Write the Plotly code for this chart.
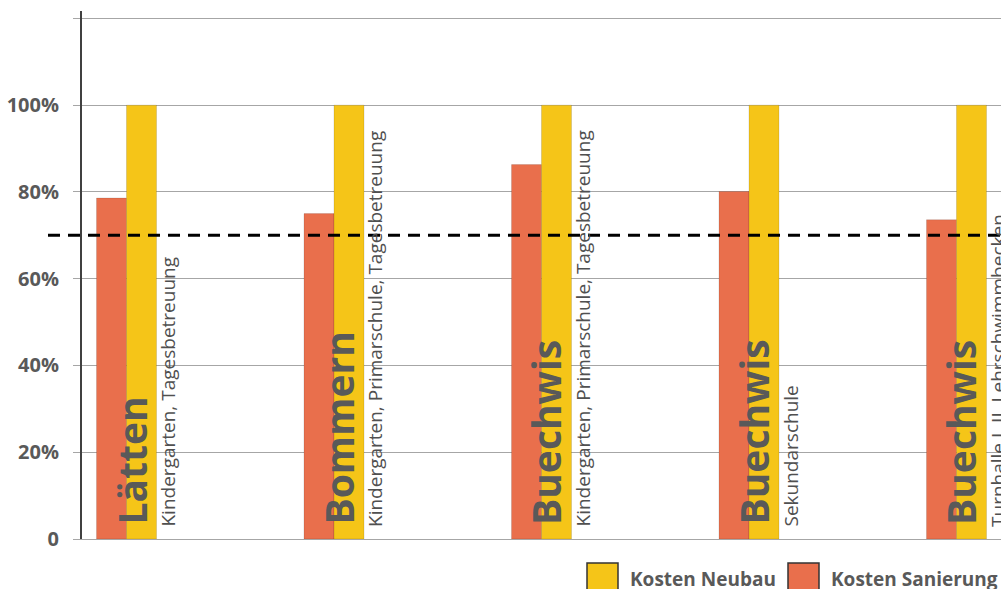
import plotly.graph_objects as go

locations = ["Lätten", "Bommern", "Buechwis", "Buechwis", "Buechwis"]
uses = ["Kindergarten, Tagesbetreuung",
        "Kindergarten, Primarschule, Tagesbetreuung",
        "Kindergarten, Primarschule, Tagesbetreuung",
        "Sekundarschule",
        "Turnhalle I, II, Lehrschwimmbecken"]
kosten_sanierung = [78.6, 75.0, 86.3, 80.1, 73.6]
kosten_neubau = [100, 100, 100, 100, 100]
threshold = 70
tick_vals = [0, 20, 40, 60, 80, 100, 120]
tick_text = ["0", "20%", "40%", "60%", "80%", "100%", ""]
legend_names = ["Kosten Neubau", "Kosten Sanierung"]

ORANGE = "#E96F4C"
YELLOW = "#F5C518"
GRAY_TXT = "#595959"
FONT = "Open Sans"

x = list(range(len(locations)))
bw = 0.1445

fig = go.Figure()
fig.add_trace(go.Bar(x=x, y=kosten_sanierung, width=bw, offset=-bw,
                     marker=dict(color=ORANGE, line=dict(color="rgba(0,0,0,0.12)", width=1)),
                     name=legend_names[1], showlegend=False))
fig.add_trace(go.Bar(x=x, y=kosten_neubau, width=bw, offset=0,
                     marker=dict(color=YELLOW, line=dict(color="rgba(0,0,0,0.12)", width=1)),
                     name=legend_names[0], showlegend=False))

# threshold dashed line
fig.add_shape(type="line", xref="paper", yref="y", x0=-0.037, x1=1, y0=threshold, y1=threshold,
              line=dict(color="black", width=3, dash="12px,8px"), layer="above")

for i, (loc, use) in enumerate(zip(locations, uses)):
    fig.add_annotation(x=i, y=0, text=loc, textangle=-90, showarrow=False,
                       xanchor="center", yanchor="bottom", xshift=4, yshift=12,
                       font=dict(family=FONT, size=39, color=GRAY_TXT, weight="bold"))
    fig.add_annotation(x=i, y=0, text=use, textangle=-90, showarrow=False,
                       xanchor="center", yanchor="bottom", xshift=41, yshift=10,
                       font=dict(family=FONT, size=19, color="#505050"))

# manual legend
W = 919.0
H = 528.0
def px_x(p):
    return (p - 82) / W
def px_y(p):
    return (539 - p) / H

legend_items = [(587, 618, YELLOW, legend_names[0], 628), (788, 819, ORANGE, legend_names[1], 829)]
for x0, x1, col, name, tx in legend_items:
    fig.add_shape(type="rect", xref="paper", yref="paper", x0=px_x(x0), x1=px_x(x1),
                  y0=px_y(563), y1=px_y(598), fillcolor=col,
                  line=dict(color="#333333", width=1.5))
    fig.add_annotation(xref="paper", yref="paper", x=px_x(tx), y=px_y(579), text=name,
                       showarrow=False, xanchor="left", yanchor="middle",
                       font=dict(family=FONT, size=19, color=GRAY_TXT, weight="bold"))

fig.update_layout(
    width=1001, height=589,
    margin=dict(l=82, r=0, t=11, b=50),
    paper_bgcolor="white", plot_bgcolor="white",
    barmode="overlay",
    showlegend=False,
    xaxis=dict(range=[-0.2145, 4.2145], showticklabels=False, showgrid=False, zeroline=False,
               showline=True, linecolor="#A6A6A6", linewidth=1, ticks=""),
    yaxis=dict(range=[0, 121.7], tickvals=tick_vals, ticktext=tick_text,
               showgrid=True, gridcolor="#A6A6A6", gridwidth=1, zeroline=False,
               showline=True, linecolor="#404040", linewidth=2,
               ticks="outside", ticklen=7, tickcolor="#A6A6A6", tickwidth=1,
               ticklabelstandoff=10,
               tickfont=dict(family=FONT, size=20, color=GRAY_TXT, weight="bold")),
)

fig.write_html("out.html")
